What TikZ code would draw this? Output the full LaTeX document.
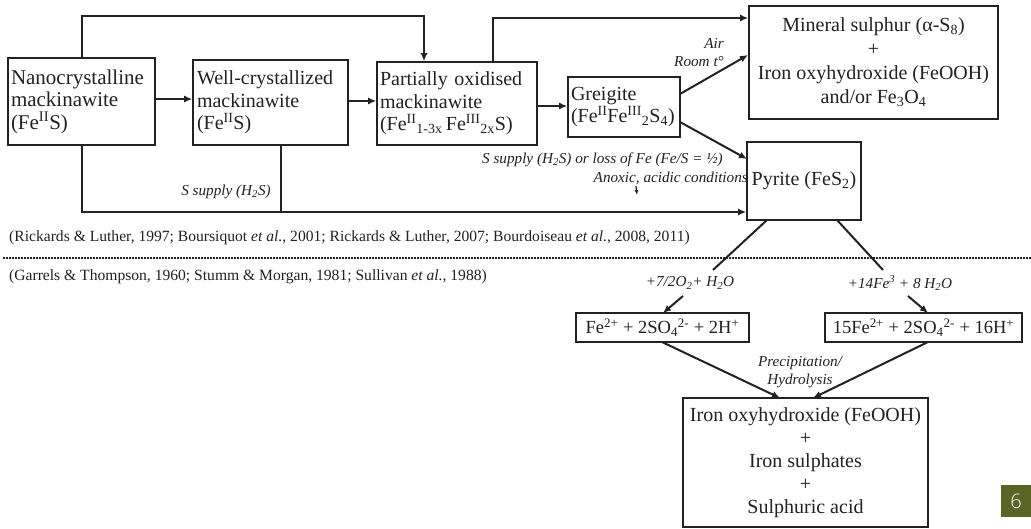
\documentclass[tikz,border=0pt]{standalone}
\usepackage{fontspec}
\setmainfont{Liberation Serif}
\newfontfamily\badgefont{Open Sans Light}
\usetikzlibrary{arrows.meta,calc}
\definecolor{ink}{HTML}{222222}
\definecolor{olive}{HTML}{5A6424}
\tikzset{
  box/.style={draw=ink,line width=1.6pt,inner sep=3pt,font=\fontsize{20}{22.5}\selectfont,text=ink},
  lbox/.style={box,align=left,anchor=center},
  cbox/.style={box,align=center},
  rbox/.style={cbox,inner sep=1pt,font=\fontsize{18.5}{20}\selectfont},
  conn/.style={draw=ink,line width=2pt},
  arr/.style={conn,-{Latex[length=8pt,width=7pt]}},
  lab/.style={font=\fontsize{15.2}{17}\selectfont\itshape,text=ink,inner sep=0pt},
  cite/.style={font=\fontsize{15.6}{17}\selectfont,text=ink,inner sep=0pt,anchor=west},
}
\begin{document}
\begin{tikzpicture}[x=1pt,y=-1pt]
\useasboundingbox (0,0) rectangle (1031,529);
\fill[white] (0,0) rectangle (1031,529);

% boxes
\node[lbox,minimum width=147pt,minimum height=87pt,text width=141pt,inner sep=2pt,font=\fontsize{21}{22.5}\selectfont] (nano) at (81.5,101.5)
  {Nanocrystalline\\mackinawite\\(Fe\textsuperscript{II}S)};
\node[lbox,minimum width=155pt,minimum height=85pt,text width=147pt] (well) at (270.5,102.5)
  {Well-crystallized\\mackinawite\\(Fe\textsuperscript{II}S)};
\node[lbox,minimum width=160pt,minimum height=83pt,text width=154pt,inner sep=2pt] (part) at (457,103.5)
  {Partially oxidised\\mackinawite\\(Fe\textsuperscript{II}\textsubscript{1-3x}\,Fe\textsuperscript{III}\textsubscript{2x}S)};
\node[lbox,minimum width=112pt,minimum height=60pt,text width=106pt,inner sep=2pt] (greig) at (624,107)
  {Greigite\\(Fe\textsuperscript{II}Fe\textsuperscript{III}\textsubscript{2}S\textsubscript{4})};
\node[cbox,minimum width=249pt,minimum height=113pt,font=\fontsize{20}{24}\selectfont] (mineral) at (873.5,62.5)
  {Mineral sulphur (α-S\textsubscript{8})\\+\\Iron oxyhydroxide (FeOOH)\\and/or Fe\textsubscript{3}O\textsubscript{4}};
\node[cbox,minimum width=114pt,minimum height=78pt,inner sep=1pt] (pyrite) at (804,181)
  {Pyrite (FeS\textsubscript{2})};
\node[rbox,minimum width=173pt,minimum height=29pt] (fe) at (662.5,327.5)
  {Fe\textsuperscript{2+} + 2SO\textsubscript{4}\textsuperscript{2-} + 2H\textsuperscript{+}};
\node[rbox,minimum width=197pt,minimum height=29pt] (fe15) at (923.5,327.5)
  {15Fe\textsuperscript{2+} + 2SO\textsubscript{4}\textsuperscript{2-} + 16H\textsuperscript{+}};
\node[cbox,minimum width=245pt,minimum height=129pt,font=\fontsize{20}{23}\selectfont] (final) at (805.5,462.5)
  {Iron oxyhydroxide (FeOOH)\\+\\Iron sulphates\\+\\Sulphuric acid};

% badge
\node[fill=olive,minimum width=30pt,minimum height=32pt,inner sep=0pt,text=white,
      font=\badgefont\fontsize{20}{20}\selectfont] (badge) at (1016,501) {6};

% helper coordinates
\coordinate (topA) at (82,16);
\coordinate (topB) at (424,16);
\coordinate (topC) at (493,18);
\coordinate (botA) at (82,212);
\coordinate (botB) at (281,212);
\coordinate (gm1) at (680,94);
\coordinate (gm2) at (748,55);
\coordinate (gp1) at (680,122);
\coordinate (gp2) at (747,159);
\coordinate (pl1) at (767,220);
\coordinate (pl2) at (713,270);
\coordinate (pl3) at (683,296);
\coordinate (pl4) at (663,313);
\coordinate (pr1) at (837,220);
\coordinate (pr2) at (883,270);
\coordinate (pr3) at (908,296);
\coordinate (pr4) at (928,313);
\coordinate (fl1) at (662,342);
\coordinate (fl2) at (780,398);
\coordinate (fr1) at (928,342);
\coordinate (fr2) at (813,398);
\coordinate (ax1) at (636,186);
\coordinate (ax2) at (637,195);

% connectors
\draw[arr] (nano.east |- 0,99) -- (well.west |- 0,99);
\draw[arr] (well.east |- 0,101) -- (part.west |- 0,101);
\draw[arr] (part.east |- 0,106) -- (greig.west |- 0,106);
\draw[arr] (nano.north -| topA) -- (topA) -- (topB) -- (part.north -| topB);
\draw[arr] (part.north -| topC) -- (topC) -- (mineral.west |- topC);
\draw[arr] (gm1) -- (gm2);
\draw[arr] (gp1) -- (gp2);
\draw[arr] (nano.south -| botA) -- (botA) -- (pyrite.west |- botA);
\draw[conn] (well.south -| botB) -- (botB);
\draw[conn] (pl1) -- (pl2);
\draw[arr] (pl3) -- (pl4);
\draw[conn] (pr1) -- (pr2);
\draw[arr] (pr3) -- (pr4);
\draw[arr] (fl1) -- (fl2);
\draw[arr] (fr1) -- (fr2);
\draw[conn,line width=1.2pt,-{Latex[length=5pt,width=4pt]}] (ax1) -- (ax2);

% labels
\node[lab,anchor=east] (air) at (724,43) {Air};
\node[lab,anchor=east] (room) at (724,62) {Room t°};
\node[lab] (ssup) at (226,192) {S supply (H\textsubscript{2}S)};
\node[lab,anchor=east] (ssup2) at (723,160) {S supply (H\textsubscript{2}S) or loss of Fe (Fe/S = ½)};
\node[lab,anchor=east] (anox) at (748,178) {Anoxic, acidic conditions};
\node[lab] (o2) at (690,283) {+7/2O\textsubscript{2}+ H\textsubscript{2}O};
\node[lab] (fe3) at (900,283) {+14Fe\textsuperscript{3} + 8 H\textsubscript{2}O};
\node[lab] (prec) at (800,363) {Precipitation/};
\node[lab] (hydr) at (800,381) {Hydrolysis};

% citations and divider
\node[cite] (cite1) at (9,238) {(Rickards \& Luther, 1997; Boursiquot \textit{et al.}, 2001; Rickards \& Luther, 2007; Bourdoiseau \textit{et al.}, 2008, 2011)};
\node[cite] (cite2) at (9,277) {(Garrels \& Thompson, 1960; Stumm \& Morgan, 1981; Sullivan \textit{et al.}, 1988)};
\coordinate (dl) at (3,258);
\coordinate (dr) at (1031,258);
\draw[ink,line width=1.3pt,dash pattern=on 1.5pt off 1.5pt] (dl) -- (dr);
\end{tikzpicture}
\end{document}
